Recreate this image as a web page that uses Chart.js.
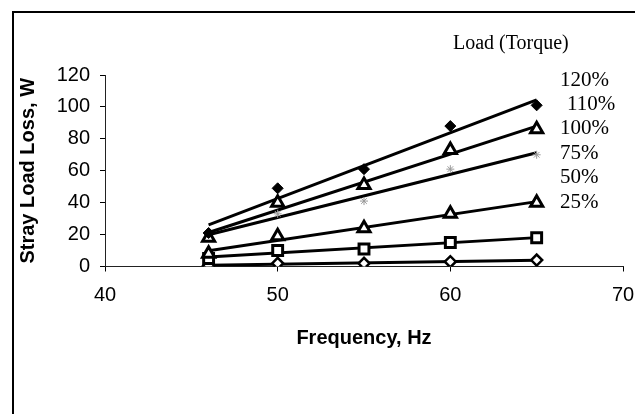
<!DOCTYPE html>
<html>
<head>
<meta charset="utf-8">
<script src="https://cdn.jsdelivr.net/npm/chart.js@4/dist/chart.umd.min.js"></script>
<style>
  html, body { margin: 0; padding: 0; background: #fff; }
  #wrap { position: relative; width: 635px; height: 414px; }
</style>
</head>
<body>
<div id="wrap"><canvas id="c" width="635" height="414"></canvas></div>
<script>
// Measured stray load loss (W) against supply frequency (Hz), one series per load level
const frequencies = [46, 50, 55, 60, 65];
const loadLabels = ['120%', '110%', '100%', '75%', '50%', '25%'];
const loss120 = [21, 49, 61, 88, 101];
const loss110 = [18, 40, 51, 73, 86];
const loss100 = [19, 33, 41, 61, 70];
const loss75  = [8, 19, 24, 33, 40];
const loss50  = [5, 10, 11, 15, 18];
const loss25  = [0.5, 2, 2, 3, 4];
const xTicks = [40, 50, 60, 70];
const yTicks = [0, 20, 40, 60, 80, 100, 120];

const seriesValues = [loss120, loss110, loss100, loss75, loss50, loss25];

// Marker look for each load level
const markerStyles = [
  { pointStyle: 'rectRot',  radius: 5.5, bg: '#000', border: '#000', bw: 1 },
  { pointStyle: 'triangle', radius: 7,   bg: '#fff', border: '#000', bw: 3 },
  { pointStyle: 'star',     radius: 4,   bg: '#fff', border: '#9a9a9a', bw: 1 },
  { pointStyle: 'triangle', radius: 7,   bg: '#fff', border: '#000', bw: 3 },
  { pointStyle: 'rect',     radius: 7,   bg: '#fff', border: '#000', bw: 3 },
  { pointStyle: 'rectRot',  radius: 5.5, bg: '#fff', border: '#000', bw: 2.5 }
];

// Least-squares linear trendline through a series, spanning its x range
function trendline(xs, ys) {
  const n = xs.length;
  const mx = xs.reduce((a, b) => a + b, 0) / n;
  const my = ys.reduce((a, b) => a + b, 0) / n;
  let sxy = 0, sxx = 0;
  for (let i = 0; i < n; i++) {
    sxy += (xs[i] - mx) * (ys[i] - my);
    sxx += (xs[i] - mx) * (xs[i] - mx);
  }
  const slope = sxy / sxx;
  const x0 = Math.min(...xs), x1 = Math.max(...xs);
  return [
    { x: x0, y: my + slope * (x0 - mx) },
    { x: x1, y: my + slope * (x1 - mx) }
  ];
}

const datasets = [];
seriesValues.forEach((vals, i) => {
  const m = markerStyles[i];
  datasets.push({
    label: loadLabels[i],
    type: 'line',
    showLine: false,
    data: frequencies.map((f, k) => ({ x: f, y: vals[k] })),
    pointStyle: m.pointStyle,
    pointRadius: m.radius,
    pointBackgroundColor: m.bg,
    pointBorderColor: m.border,
    pointBorderWidth: m.bw,
    order: 0
  });
  datasets.push({
    label: loadLabels[i] + ' trend',
    type: 'line',
    data: trendline(frequencies, vals),
    borderColor: '#000',
    borderWidth: 3,
    pointRadius: 0,
    fill: false,
    order: 1
  });
});

// White page with the outer frame
const framePlugin = {
  id: 'frame',
  beforeDraw(chart) {
    const ctx = chart.ctx;
    ctx.save();
    ctx.fillStyle = '#fff';
    ctx.fillRect(0, 0, chart.width, chart.height);
    ctx.strokeStyle = '#000';
    ctx.lineWidth = 2;
    ctx.strokeRect(13, 12, 640, 420);
    ctx.restore();
  }
};

// Load-level key: heading plus stacked level names
const keyPlugin = {
  id: 'loadKey',
  afterDraw(chart) {
    const ctx = chart.ctx;
    ctx.save();
    ctx.fillStyle = '#000';
    ctx.textBaseline = 'middle';
    ctx.textAlign = 'left';
    ctx.font = '20px "Liberation Serif", "Times New Roman", serif';
    ctx.fillText('Load (Torque)', 453, 44);
    ctx.font = '21px "Liberation Serif", "Times New Roman", serif';
    loadLabels.forEach((name, i) => {
      const indent = i === 1 ? 7 : 0;
      ctx.fillText(name, 560 + indent, 80 + i * 24.4);
    });
    ctx.restore();
  }
};

new Chart(document.getElementById('c'), {
  type: 'line',
  data: { datasets },
  options: {
    responsive: false,
    animation: false,
    devicePixelRatio: 1,
    layout: { padding: { left: 8, right: 12, top: 75, bottom: 64 } },
    plugins: { legend: { display: false }, tooltip: { enabled: false } },
    scales: {
      x: {
        type: 'linear',
        min: 40, max: 70,
        afterBuildTicks(scale) { scale.ticks = xTicks.map(v => ({ value: v })); },
        afterFit(scale) {
          scale.height = 83.5;
          scale.paddingLeft = 0;
          scale.paddingRight = 0;
        },
        grid: { drawOnChartArea: false, drawTicks: true, tickLength: 5, color: '#000' },
        border: { display: true, color: '#222', width: 1 },
        ticks: {
          color: '#000',
          padding: 12,
          maxRotation: 0,
          font: { family: '"Liberation Sans", Arial, sans-serif', size: 20 }
        },
        title: {
          display: true,
          text: 'Frequency, Hz',
          color: '#000',
          padding: { top: 0, bottom: 0 },
          font: { family: '"Liberation Sans", Arial, sans-serif', size: 20, weight: 'bold' }
        }
      },
      y: {
        type: 'linear',
        min: 0, max: 120,
        afterBuildTicks(scale) { scale.ticks = yTicks.map(v => ({ value: v })); },
        afterFit(scale) { scale.width = 97; },
        grid: { drawOnChartArea: false, drawTicks: true, tickLength: 5, color: '#000' },
        border: { display: true, color: '#222', width: 1 },
        ticks: {
          color: '#000',
          padding: 10,
          font: { family: '"Liberation Sans", Arial, sans-serif', size: 20 }
        },
        title: {
          display: true,
          text: 'Stray Load Loss, W',
          color: '#000',
          padding: { top: 8, bottom: 0 },
          font: { family: '"Liberation Sans", Arial, sans-serif', size: 20, weight: 'bold' }
        }
      }
    }
  },
  plugins: [framePlugin, keyPlugin]
});
</script>
</body>
</html>
